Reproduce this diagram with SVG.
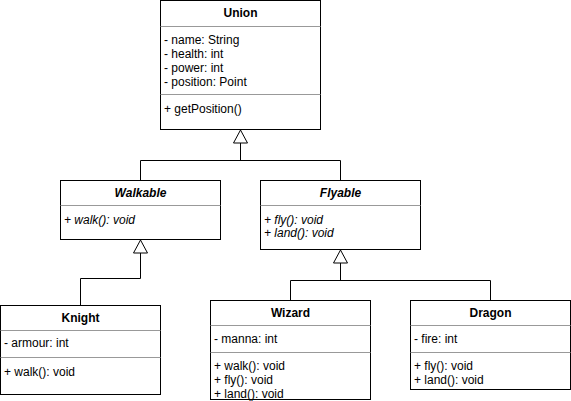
<svg xmlns="http://www.w3.org/2000/svg" width="571" height="401" viewBox="0 0 571 401">
<style>
.box{fill:#fff;stroke:#000;stroke-width:1}
.sep{stroke:#999;stroke-width:1}
.t{font-family:"Liberation Sans",Arial,Helvetica,sans-serif;font-size:12px;fill:#000}
.title{font-weight:bold;text-anchor:middle}
.it{font-style:italic}
.edge{fill:none;stroke:#000;stroke-width:1}
.tri{fill:#fff;stroke:#000;stroke-width:1}
</style>
<rect width="571" height="401" fill="#fff"/>
<g id="connectors">
<path class="edge" d="M140.5 180 V160.5 H340.5 V180 M240.5 160.5 V143"/>
<polygon class="tri" points="240.5,130 233.5,143 247.5,143"/>
<path class="edge" d="M80.5 305 V278.5 H140.5 V253"/>
<polygon class="tri" points="140.5,240 133.5,253 147.5,253"/>
<path class="edge" d="M290.5 300 V280.5 H490.5 V300 M340.5 280.5 V263"/>
<polygon class="tri" points="340.5,250 333.5,263 347.5,263"/>
</g>
<g id="union">
<rect class="box" x="160.5" y="0.5" width="160" height="129"/>
<line class="sep" x1="160.5" y1="26.5" x2="320.5" y2="26.5"/>
<line class="sep" x1="160.5" y1="94.5" x2="320.5" y2="94.5"/>
<text class="t title" x="240.5" y="17">Union</text>
<text class="t" x="164" y="44">- name: String</text>
<text class="t" x="164" y="58">- health: int</text>
<text class="t" x="164" y="72">- power: int</text>
<text class="t" x="164" y="86">- position: Point</text>
<text class="t" x="164" y="113">+ getPosition()</text>
</g>
<g id="walkable">
<rect class="box" x="60.5" y="180.5" width="160" height="59"/>
<line class="sep" x1="60.5" y1="205.5" x2="220.5" y2="205.5"/>
<text class="t title it" x="140.5" y="197">Walkable</text>
<text class="t it" x="64" y="224">+ walk(): void</text>
</g>
<g id="flyable">
<rect class="box" x="260.5" y="180.5" width="160" height="69"/>
<line class="sep" x1="260.5" y1="205.5" x2="420.5" y2="205.5"/>
<text class="t title it" x="340.5" y="197">Flyable</text>
<text class="t it" x="264" y="224">+ fly(): void</text>
<text class="t it" x="264" y="237">+ land(): void</text>
</g>
<g id="knight">
<rect class="box" x="0.5" y="305.5" width="160" height="89"/>
<line class="sep" x1="0.5" y1="330.5" x2="160.5" y2="330.5"/>
<line class="sep" x1="0.5" y1="357.5" x2="160.5" y2="357.5"/>
<text class="t title" x="80.5" y="322">Knight</text>
<text class="t" x="4" y="347">- armour: int</text>
<text class="t" x="4" y="376">+ walk(): void</text>
</g>
<g id="wizard">
<rect class="box" x="210.5" y="300.5" width="160" height="99"/>
<line class="sep" x1="210.5" y1="325.5" x2="370.5" y2="325.5"/>
<line class="sep" x1="210.5" y1="352.5" x2="370.5" y2="352.5"/>
<text class="t title" x="290.5" y="317">Wizard</text>
<text class="t" x="214" y="343">- manna: int</text>
<text class="t" x="214" y="370">+ walk(): void</text>
<text class="t" x="214" y="384">+ fly(): void</text>
<text class="t" x="214" y="398">+ land(): void</text>
</g>
<g id="dragon">
<rect class="box" x="410.5" y="300.5" width="160" height="89"/>
<line class="sep" x1="410.5" y1="325.5" x2="570.5" y2="325.5"/>
<line class="sep" x1="410.5" y1="352.5" x2="570.5" y2="352.5"/>
<text class="t title" x="490.5" y="317">Dragon</text>
<text class="t" x="414" y="343">- fire: int</text>
<text class="t" x="414" y="370">+ fly(): void</text>
<text class="t" x="414" y="384">+ land(): void</text>
</g>
</svg>
